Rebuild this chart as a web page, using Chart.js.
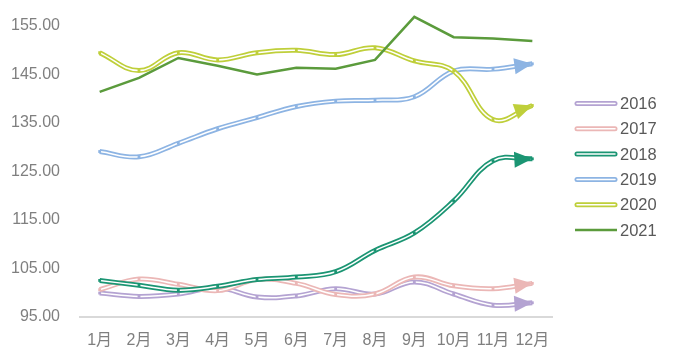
<!DOCTYPE html>
<html>
<head>
<meta charset="utf-8">
<script src="https://cdn.jsdelivr.net/npm/chart.js@4.4.1/dist/chart.umd.min.js"></script>
<style>
  body { margin: 0; background: #fff; }
  #wrap { width: 677px; height: 360px; }
</style>
</head>
<body>
<div id="wrap"><canvas id="c"></canvas></div>
<script>
const months = ["1月", "2月", "3月", "4月", "5月", "6月", "7月", "8月", "9月", "10月", "11月", "12月"];
const years = ["2016", "2017", "2018", "2019", "2020", "2021"];
const s2016 = [99.9, 99.2, 99.7, 101.0, 99.1, 99.3, 100.8, 99.7, 102.2, 99.7, 97.4, 97.9];
const s2017 = [100.6, 102.8, 101.7, 100.4, 102.7, 101.9, 99.6, 99.7, 103.2, 101.4, 100.8, 101.9];
const s2018 = [102.5, 101.5, 100.5, 101.3, 102.7, 103.2, 104.3, 108.7, 112.3, 118.9, 127.2, 127.6];
const s2019 = [129.1, 128.0, 130.8, 133.8, 136.1, 138.4, 139.5, 139.7, 140.4, 145.7, 146.1, 147.2];
const s2020 = [149.5, 145.8, 149.5, 148.0, 149.5, 150.0, 149.1, 150.5, 147.8, 145.7, 135.7, 138.6];
const s2021 = [141.4, 144.3, 148.4, 146.8, 145.0, 146.4, 146.2, 148.0, 156.9, 152.7, 152.4, 151.9];
const series = [s2016, s2017, s2018, s2019, s2020, s2021];
const colors = ["#b4a3d2", "#ebb7b6", "#1b9573", "#8db4e3", "#bfcf3a", "#5b9b3c"];
const doubled = [true, true, true, true, true, false];

const datasets = [];
series.forEach((data, i) => {
    const rank = (series.length - 1 - i) * 2;
    datasets.push({
        label: years[i],
        data: data,
        borderColor: colors[i],
        backgroundColor: colors[i],
        borderWidth: doubled[i] ? 5 : 2.5,
        tension: doubled[i] ? 0.4 : 0,
        pointRadius: 0,
        clip: false,
        order: rank + 1,
        idx: i
    });
    if (doubled[i]) {
        datasets.push({
            label: "",
            data: data,
            borderColor: "#ffffff",
            borderWidth: 1.5,
            tension: 0.4,
            pointStyle: "rect",
            pointRadius: 2,
            pointBorderWidth: 0,
            pointBackgroundColor: colors[i],
            clip: false,
            order: rank,
            arrow: true,
            idx: i
        });
    }
});

// arrow heads on the end of the double lines
const arrowPlugin = {
    id: "arrows",
    afterDatasetDraw(chart, args) {
        const ds = chart.data.datasets[args.index];
        if (!ds.arrow) return;
        const pts = args.meta.data;
        const last = pts[pts.length - 1];
        const prev = pts[pts.length - 2];
        let dx = last.x - (last.cp1x ?? prev.x);
        let dy = last.y - (last.cp1y ?? prev.y);
        if (Math.abs(dx) + Math.abs(dy) < 0.01) { dx = last.x - prev.x; dy = last.y - prev.y; }
        const len = Math.hypot(dx, dy);
        const ux = dx / len, uy = dy / len;
        const L = 18, W = 8;
        const ctx = chart.ctx;
        ctx.save();
        ctx.fillStyle = colors[ds.idx];
        ctx.beginPath();
        ctx.moveTo(last.x, last.y);
        ctx.lineTo(last.x - ux * L - uy * W, last.y - uy * L + ux * W);
        ctx.lineTo(last.x - ux * L + uy * W, last.y - uy * L - ux * W);
        ctx.closePath();
        ctx.fill();
        ctx.restore();
    }
};

// legend on the right, samples look like the double lines
const legendPlugin = {
    id: "sideLegend",
    afterDraw(chart) {
        const ctx = chart.ctx;
        ctx.save();
        ctx.font = "16.5px 'Liberation Sans', sans-serif";
        ctx.textBaseline = "middle";
        ctx.textAlign = "left";
        years.forEach((y, i) => {
            const cy = 103.5 + i * 25.3;
            if (doubled[i]) {
                ctx.strokeStyle = colors[i];
                ctx.lineWidth = 5;
                ctx.lineCap = "round";
                ctx.beginPath();
                ctx.moveTo(577, cy);
                ctx.lineTo(615, cy);
                ctx.stroke();
                ctx.strokeStyle = "#ffffff";
                ctx.lineWidth = 1.5;
                ctx.beginPath();
                ctx.moveTo(577, cy);
                ctx.lineTo(615, cy);
                ctx.stroke();
            } else {
                ctx.strokeStyle = colors[i];
                ctx.lineWidth = 2.5;
                ctx.lineCap = "butt";
                ctx.beginPath();
                ctx.moveTo(575, cy);
                ctx.lineTo(617, cy);
                ctx.stroke();
            }
            ctx.fillStyle = "#595959";
            ctx.fillText(y, 620, cy + 1);
        });
        ctx.restore();
    }
};

const font = { family: "'Liberation Sans', 'Noto Sans CJK SC', sans-serif", size: 16 };

new Chart(document.getElementById("c"), {
    type: "line",
    data: { labels: months, datasets: datasets },
    plugins: [arrowPlugin, legendPlugin],
    options: {
        responsive: true,
        maintainAspectRatio: false,
        animation: false,
        layout: { padding: { left: 0, right: 125, top: 26, bottom: 4 } },
        plugins: {
            tooltip: { enabled: false },
            legend: { display: false }
        },
        scales: {
            x: {
                offset: true,
                grid: { display: false },
                border: { color: "#d9d9d9", width: 2 },
                ticks: { font: font, color: "#7f7f7f", padding: 6, maxRotation: 0, autoSkip: false }
            },
            y: {
                min: 95,
                max: 155,
                grid: { display: false },
                border: { display: false },
                afterFit(scale) { scale.width = 80; },
                ticks: {
                    stepSize: 10,
                    font: font,
                    color: "#7f7f7f",
                    padding: 12,
                    callback: v => v.toFixed(2)
                }
            }
        }
    }
});
</script>
</body>
</html>
